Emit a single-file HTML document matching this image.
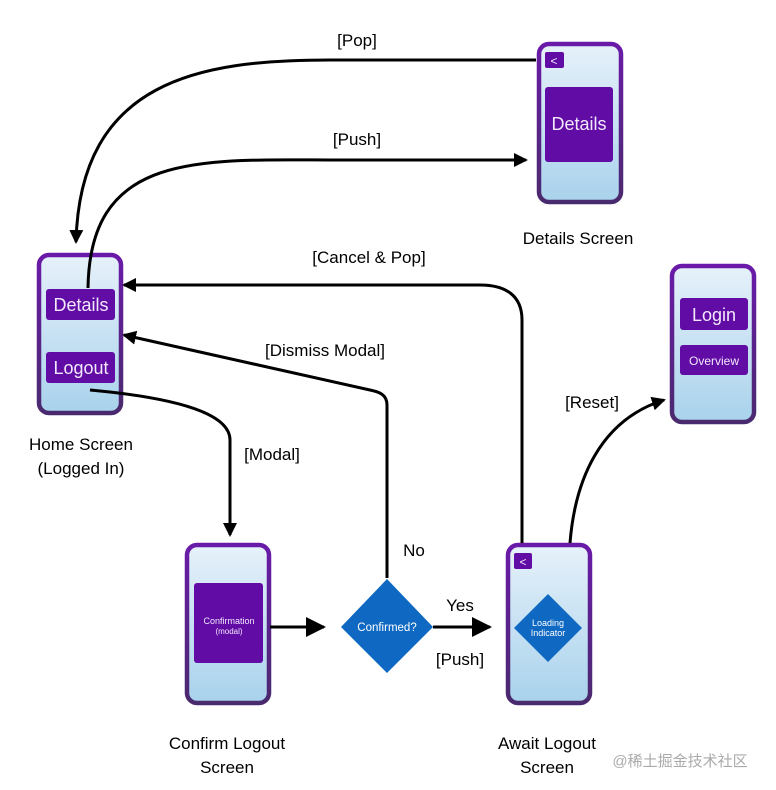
<!DOCTYPE html>
<html><head><meta charset="utf-8"><style>
html,body{margin:0;padding:0;background:#fff;}
svg{display:block;font-family:"Liberation Sans","Noto Sans CJK SC",sans-serif;}
</style></head><body>
<svg width="776" height="790" viewBox="0 0 776 790" xmlns="http://www.w3.org/2000/svg">
<defs>
<linearGradient id="g" x1="0" y1="0" x2="0" y2="1"><stop offset="0" stop-color="#e6f1fa"/><stop offset="1" stop-color="#a9d2ec"/></linearGradient>
<linearGradient id="b" x1="0" y1="0" x2="0" y2="1"><stop offset="0" stop-color="#6a1aa8"/><stop offset="1" stop-color="#4a2a6e"/></linearGradient>
<marker id="a" markerWidth="14" markerHeight="14" refX="12" refY="7" orient="auto" markerUnits="userSpaceOnUse"><path d="M0,0 L14,7 L0,14 z" fill="#000"/></marker>
<marker id="A" markerWidth="20" markerHeight="20" refX="18" refY="10" orient="auto" markerUnits="userSpaceOnUse"><path d="M0,0 L20,10 L0,20 z" fill="#000"/></marker>
</defs>
<g stroke="url(#b)" stroke-width="4.5" fill="url(#g)">
<rect x="539" y="44" width="82" height="158" rx="10"/>
<rect x="39" y="255" width="82" height="158" rx="10"/>
<rect x="672" y="266" width="82" height="156" rx="10"/>
<rect x="187" y="545" width="82" height="158" rx="10"/>
<rect x="508" y="545" width="82" height="158" rx="10"/>
</g>
<g fill="#620ca6">
<rect x="545" y="52" width="19" height="16" rx="2"/>
<rect x="545" y="87" width="68" height="75" rx="3"/>
<rect x="46" y="289" width="69" height="31" rx="3"/>
<rect x="46" y="352" width="69" height="31" rx="3"/>
<rect x="680" y="298" width="68" height="32" rx="3"/>
<rect x="680" y="345" width="68" height="30" rx="3"/>
<rect x="194" y="583" width="69" height="80" rx="3"/>
<rect x="514" y="553" width="18" height="16" rx="2"/>
</g>
<g fill="#f2e8fb" text-anchor="middle">
<text x="554" y="65" font-size="12">&lt;</text>
<text x="523" y="566" font-size="12">&lt;</text>
<text x="579" y="130" font-size="18">Details</text>
<text x="81" y="311" font-size="18">Details</text>
<text x="81" y="374" font-size="18">Logout</text>
<text x="714" y="321" font-size="18">Login</text>
<text x="714" y="365" font-size="12">Overview</text>
<text x="229" y="624" font-size="9">Confirmation</text>
<text x="229" y="634" font-size="8">(modal)</text>
</g>
<path d="M387,579 L433,627 L387,673 L341,627 z" fill="#0f69c2"/>
<path d="M548,594 L582,628 L548,662 L514,628 z" fill="#0f69c2"/>
<g fill="#fff" text-anchor="middle">
<text x="387" y="631" font-size="11.5">Confirmed?</text>
<text x="548" y="626" font-size="9">Loading</text>
<text x="548" y="636" font-size="9">Indicator</text>
</g>
<g stroke="#000" stroke-width="3" fill="none">
<path d="M536,60 L330,60 C200,60 80,80 76,242" marker-end="url(#a)"/>
<path d="M88,288 C90,150 200,160 340,160 L526,160" marker-end="url(#a)"/>
<path d="M522,543 L522,320 C522,295 505,285 480,285 L124,285" marker-end="url(#a)"/>
<path d="M387,578 L387,405 C387,395 380,392 370,390 L124,335" marker-end="url(#a)"/>
<path d="M90,390 C200,400 230,420 230,440 L230,535" marker-end="url(#a)"/>
<path d="M270,627 L324,627" marker-end="url(#A)"/>
<path d="M433,627 L490,627" marker-end="url(#A)"/>
<path d="M570,543 C575,480 600,420 664,400" marker-end="url(#a)"/>
</g>
<g fill="#000" font-size="17" text-anchor="middle">
<text x="357" y="46">[Pop]</text>
<text x="357" y="145">[Push]</text>
<text x="578" y="244">Details Screen</text>
<text x="369" y="263">[Cancel &amp; Pop]</text>
<text x="325" y="356">[Dismiss Modal]</text>
<text x="81" y="450">Home Screen</text>
<text x="81" y="474">(Logged In)</text>
<text x="272" y="460">[Modal]</text>
<text x="592" y="408">[Reset]</text>
<text x="414" y="556">No</text>
<text x="460" y="611">Yes</text>
<text x="460" y="665">[Push]</text>
<text x="227" y="749">Confirm Logout</text>
<text x="227" y="773">Screen</text>
<text x="547" y="749">Await Logout</text>
<text x="547" y="773">Screen</text>
</g>
<text x="680" y="766" font-size="15" fill="#aaa" text-anchor="middle">@稀土掘金技术社区</text>
</svg>
</body></html>
